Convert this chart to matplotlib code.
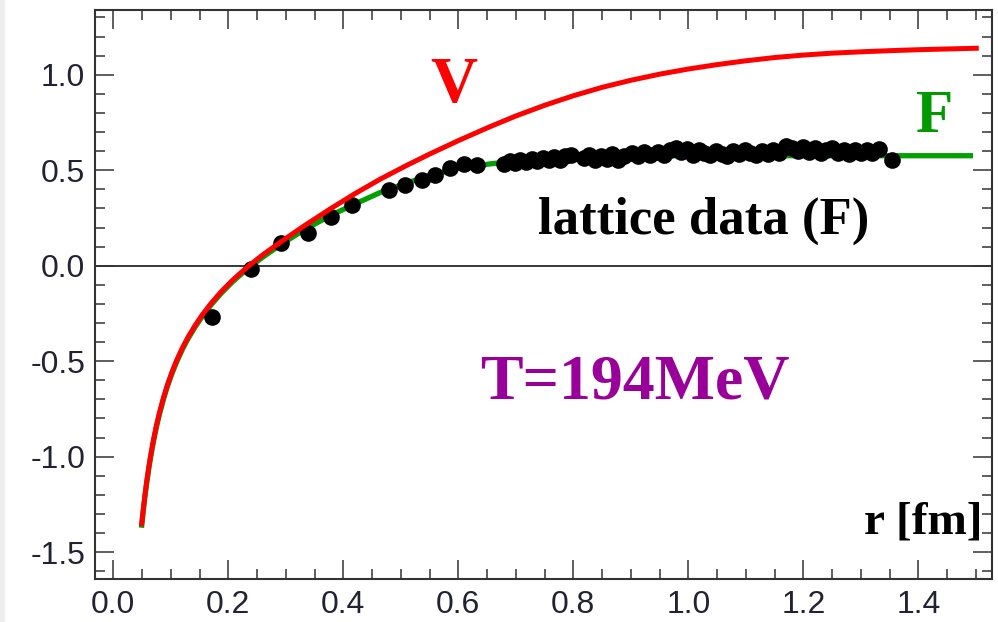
import numpy as np
import matplotlib.pyplot as plt
from matplotlib.patches import Rectangle
from matplotlib.ticker import MultipleLocator

plt.rcParams['axes.unicode_minus'] = False

# potential V(r) and free energy F(r) in GeV, r in fm
r_V = [0.049, 0.052, 0.055, 0.058, 0.062, 0.066, 0.070, 0.075, 0.080, 0.087,
       0.094, 0.102, 0.110, 0.120, 0.130, 0.142, 0.155, 0.170, 0.188, 0.206,
       0.222, 0.238, 0.260, 0.290, 0.330, 0.377, 0.420, 0.464, 0.510, 0.551,
       0.600, 0.655, 0.700, 0.750, 0.800, 0.850, 0.900, 0.950, 1.000, 1.050,
       1.100, 1.150, 1.200, 1.250, 1.300, 1.350, 1.400, 1.450, 1.505]
V = [-1.364, -1.279, -1.202, -1.132, -1.049, -0.976, -0.910, -0.837, -0.773, -0.694,
     -0.625, -0.557, -0.497, -0.431, -0.374, -0.314, -0.256, -0.197, -0.135, -0.080,
     -0.036, 0.005, 0.057, 0.122, 0.205, 0.297, 0.377, 0.453, 0.525, 0.586,
     0.655, 0.728, 0.784, 0.840, 0.890, 0.934, 0.971, 1.003, 1.030, 1.053,
     1.073, 1.090, 1.103, 1.113, 1.120, 1.126, 1.131, 1.135, 1.139]

r_F = [0.049, 0.052, 0.055, 0.058, 0.062, 0.066, 0.070, 0.075, 0.080, 0.087,
       0.094, 0.102, 0.110, 0.120, 0.130, 0.142, 0.155, 0.170, 0.188, 0.206,
       0.222, 0.238, 0.260, 0.290, 0.330, 0.377, 0.420, 0.464, 0.510, 0.551,
       0.600, 0.655, 0.700, 0.750, 0.800, 0.850, 0.900, 1.000, 1.200, 1.495]
F = [-1.372, -1.287, -1.210, -1.140, -1.057, -0.984, -0.918, -0.845, -0.781, -0.702,
     -0.633, -0.565, -0.505, -0.439, -0.382, -0.322, -0.264, -0.205, -0.143, -0.088,
     -0.045, -0.005, 0.045, 0.108, 0.185, 0.262, 0.323, 0.383, 0.433, 0.473,
     0.510, 0.533, 0.548, 0.560, 0.568, 0.572, 0.575, 0.576, 0.576, 0.576]

# lattice free energy at T=194 MeV
r_lat = [0.171, 0.240, 0.292, 0.339, 0.379, 0.415, 0.479, 0.507, 0.536, 0.560,
         0.586, 0.610, 0.632,
         0.680, 0.689, 0.699, 0.708, 0.718, 0.728, 0.737, 0.747, 0.757, 0.766,
         0.776, 0.786, 0.796,
         0.818, 0.828, 0.838, 0.848, 0.858, 0.868, 0.878, 0.888,
         0.902, 0.912, 0.922, 0.934,
         0.948, 0.958, 0.968, 0.978, 0.988, 0.998, 1.008, 1.018, 1.028, 1.038,
         1.048, 1.058, 1.068, 1.078, 1.088, 1.098, 1.108, 1.118, 1.128, 1.138,
         1.148, 1.157,
         1.170, 1.180, 1.190, 1.200, 1.210, 1.220, 1.230, 1.240, 1.250, 1.260,
         1.270, 1.280, 1.290, 1.300, 1.310, 1.320, 1.332, 1.354]
F_lat = [-0.267, -0.018, 0.120, 0.172, 0.257, 0.320, 0.398, 0.422, 0.449, 0.473,
         0.510, 0.530, 0.525,
         0.532, 0.548, 0.538, 0.556, 0.544, 0.560, 0.548, 0.565, 0.553, 0.570,
         0.556, 0.574, 0.580,
         0.565, 0.580, 0.556, 0.574, 0.560, 0.583, 0.554, 0.572,
         0.590, 0.574, 0.596, 0.580,
         0.596, 0.580, 0.604, 0.618, 0.594, 0.610, 0.582, 0.604, 0.590, 0.578,
         0.602, 0.586, 0.576, 0.600, 0.584, 0.606, 0.590, 0.578, 0.602, 0.586,
         0.608, 0.590,
         0.628, 0.614, 0.602, 0.622, 0.596, 0.614, 0.590, 0.606, 0.616, 0.588,
         0.606, 0.586, 0.604, 0.590, 0.606, 0.592, 0.610, 0.553]

fig = plt.figure(figsize=(9.98, 6.22), dpi=100)
fig.patches.append(Rectangle((0, 0), 4 / 998, 1, transform=fig.transFigure,
                             color='#eeeeee', zorder=0))
ax = fig.add_axes([95 / 998, 42.7 / 622, 897 / 998, 569.3 / 622])

ax.axhline(0, color='black', lw=1.1, zorder=1)
ax.plot(r_F, F, color='#00a000', lw=3.8, solid_capstyle='butt', zorder=2)
ax.plot(r_lat, F_lat, 'o', color='black', ms=12, mew=0, zorder=3)
ax.plot(r_V, V, color='#ff0000', lw=3.6, solid_capstyle='butt', zorder=4)

ax.set_xlim(-0.0318, 1.528)
ax.set_ylim(-1.642, 1.339)

ax.xaxis.set_major_locator(MultipleLocator(0.2))
ax.xaxis.set_minor_locator(MultipleLocator(0.05))
ax.yaxis.set_major_locator(MultipleLocator(0.5))
ax.yaxis.set_minor_locator(MultipleLocator(0.1))
ax.xaxis.set_major_formatter(plt.FuncFormatter(lambda v, p: f'{v:.1f}'))
ax.yaxis.set_major_formatter(plt.FuncFormatter(lambda v, p: f'{v:.1f}'))

ax.tick_params(which='both', direction='in', top=True, right=True,
               color='#333333', width=1.1)
ax.tick_params(which='major', length=13.5)
ax.tick_params(which='minor', length=7.5)
ax.tick_params(axis='x', which='major', pad=8)
ax.tick_params(axis='y', which='major', pad=7)
for lab in ax.get_xticklabels() + ax.get_yticklabels():
    lab.set_family('Liberation Sans')
    lab.set_fontsize(23)
    lab.set_color('#222233')
for s in ax.spines.values():
    s.set_linewidth(1.5)
    s.set_color('#333333')

serif = dict(family='Liberation Serif', weight='bold')
ax.text(0.592, 0.857, 'V', color='#ff0000', fontsize=47, ha='center', **serif)
ax.text(1.429, 0.700, 'F', color='#009900', fontsize=44, ha='center', **serif)
ax.text(1.027, 0.170, 'lattice data (F)', color='black', fontsize=38,
        ha='center', **serif)
ax.text(0.907, -0.693, 'T=194MeV', color='#990099', fontsize=46,
        ha='center', **serif)
ax.text(1.511, -1.40, 'r [fm]', color='black', fontsize=34, ha='right', **serif)

plt.savefig('out.png', dpi=100)
